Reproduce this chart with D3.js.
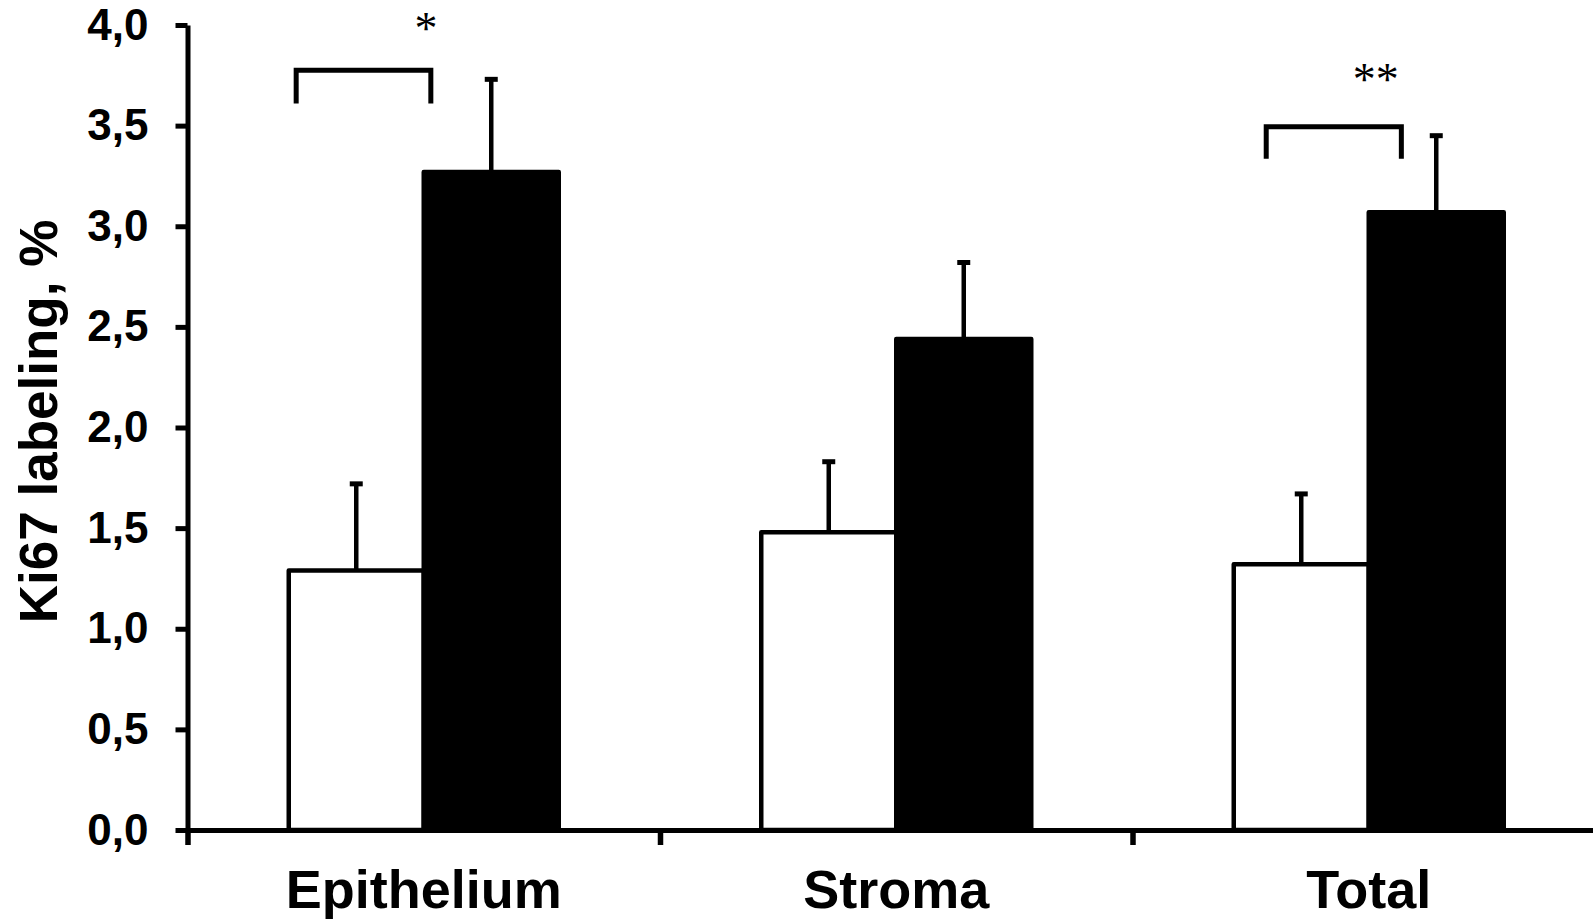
<!DOCTYPE html>
<html>
<head>
<meta charset="utf-8">
<script src="https://cdn.jsdelivr.net/npm/d3@7/dist/d3.min.js"></script>
<style>
  html, body { margin: 0; padding: 0; background: #fff; }
  svg { display: block; }
</style>
</head>
<body>
<svg id="chart" width="1593" height="920"></svg>
<script>
// Ki67 labeling (%) per tissue compartment, two groups (open / filled bars), mean + SD
const categories = ["Epithelium", "Stroma", "Total"];
const seriesKeys = ["open", "filled"];
const openMean = [1.29, 1.48, 1.32];
const openSD = [0.43, 0.35, 0.35];
const filledMean = [3.27, 2.44, 3.07];
const filledSD = [0.46, 0.38, 0.38];
const yTicks = [0, 0.5, 1, 1.5, 2, 2.5, 3, 3.5, 4];
const yTitle = "Ki67 labeling, %";

// significance brackets: x given as fraction of the category band, y in data units
const sigCategory = ["Epithelium", "Total"];
const sigLabel = ["*", "**"];
const sigX0 = [0.230, 0.283];
const sigX1 = [0.515, 0.569];
const sigTop = [3.775, 3.495];
const sigLeg = [3.61, 3.335];
const sigLabelX = [0.505, 0.515];
const sigLabelY = [4.013, 3.761];

const svg = d3.select("#chart");
const W = 1593, H = 920;
svg.append("rect").attr("width", W).attr("height", H).attr("fill", "#fff");

const plotLeft = 187.5, plotBottom = 830, plotTop = 25;
const bandStep = 472.5;

const y = d3.scaleLinear().domain([0, 4]).range([plotBottom, plotTop]);
const x0 = d3.scaleBand().domain(categories)
  .range([plotLeft, plotLeft + bandStep * categories.length])
  .paddingInner(0).paddingOuter(0);
const x1 = d3.scaleBand().domain(seriesKeys)
  .range([0, x0.bandwidth()])
  .paddingInner(0).paddingOuter(0.75);

const rows = categories.map((c, i) => ({
  cat: c,
  values: [
    { key: "open", mean: openMean[i], sd: openSD[i] },
    { key: "filled", mean: filledMean[i], sd: filledSD[i] }
  ]
}));

const ink = "#000";
const sw = 4.5;

// bars
const g = svg.append("g");
const groups = g.selectAll("g.cat").data(rows).join("g")
  .attr("class", "cat")
  .attr("transform", d => `translate(${x0(d.cat)},0)`);

groups.selectAll("rect").data(d => d.values).join("rect")
  .attr("x", d => x1(d.key))
  .attr("width", x1.bandwidth())
  .attr("y", d => y(d.mean))
  .attr("height", d => y(0) - y(d.mean))
  .attr("fill", d => d.key === "open" ? "#fff" : "#000")
  .attr("stroke", ink)
  .attr("stroke-width", sw)
  .attr("stroke-linejoin", "round");

// upper error bars
groups.selectAll("line.err").data(d => d.values).join("line")
  .attr("class", "err")
  .attr("x1", d => x1(d.key) + x1.bandwidth() / 2)
  .attr("x2", d => x1(d.key) + x1.bandwidth() / 2)
  .attr("y1", d => y(d.mean))
  .attr("y2", d => y(d.mean + d.sd))
  .attr("stroke", ink).attr("stroke-width", sw);

groups.selectAll("line.cap").data(d => d.values).join("line")
  .attr("class", "cap")
  .attr("x1", d => x1(d.key) + x1.bandwidth() / 2 - 6.5)
  .attr("x2", d => x1(d.key) + x1.bandwidth() / 2 + 6.5)
  .attr("y1", d => y(d.mean + d.sd))
  .attr("y2", d => y(d.mean + d.sd))
  .attr("stroke", ink).attr("stroke-width", 5);

// y axis
const yAxis = svg.append("g")
  .attr("transform", `translate(${plotLeft},0)`)
  .call(d3.axisLeft(y).tickValues(yTicks)
    .tickFormat(d => d3.format(".1f")(d).replace(".", ","))
    .tickSizeInner(12).tickSizeOuter(0).tickPadding(27));
yAxis.select(".domain").attr("stroke", ink).attr("stroke-width", 5);
yAxis.selectAll(".tick line").attr("stroke", ink).attr("stroke-width", 5);
yAxis.selectAll(".tick text")
  .attr("fill", ink)
  .style("font-family", "'Liberation Sans', Arial, sans-serif")
  .style("font-weight", "bold")
  .style("font-size", "44px");

// x axis: baseline with boundary ticks between categories
const xb = d3.scaleLinear().domain([0, categories.length])
  .range([plotLeft, plotLeft + bandStep * categories.length]);
const xAxis = svg.append("g")
  .attr("transform", `translate(0,${plotBottom})`)
  .call(d3.axisBottom(xb).tickValues(d3.range(categories.length + 1))
    .tickFormat("").tickSizeInner(15).tickSizeOuter(0));
xAxis.select(".domain").attr("stroke", ink).attr("stroke-width", 5);
xAxis.selectAll(".tick line").attr("stroke", ink).attr("stroke-width", 5.5);

// category labels
const xLab = svg.append("g")
  .attr("transform", `translate(0,${plotBottom})`)
  .call(d3.axisBottom(x0).tickSize(0));
xLab.select(".domain").remove();
xLab.selectAll(".tick text")
  .attr("y", 78).attr("dy", 0)
  .attr("fill", ink)
  .style("font-family", "'Liberation Sans', Arial, sans-serif")
  .style("font-weight", "bold")
  .style("font-size", "54px");

// y title
svg.append("text")
  .attr("transform", `translate(57,${(222 + 621) / 2}) rotate(-90)`)
  .attr("text-anchor", "middle")
  .attr("fill", ink)
  .style("font-family", "'Liberation Sans', Arial, sans-serif")
  .style("font-weight", "bold")
  .style("font-size", "53px")
  .text(yTitle);

// significance brackets
const sig = sigCategory.map((c, i) => ({
  c, label: sigLabel[i], x0: sigX0[i], x1: sigX1[i],
  top: sigTop[i], leg: sigLeg[i], lx: sigLabelX[i], ly: sigLabelY[i]
}));
const bx = (d, f) => x0(d.c) + f * x0.bandwidth();

svg.selectAll("path.sig").data(sig).join("path")
  .attr("class", "sig")
  .attr("d", d => `M${bx(d, d.x0)},${y(d.leg)}V${y(d.top)}H${bx(d, d.x1)}V${y(d.leg)}`)
  .attr("fill", "none")
  .attr("stroke", ink)
  .attr("stroke-width", 5)
  .attr("stroke-linejoin", "miter");

svg.selectAll("text.sig").data(sig).join("text")
  .attr("class", "sig")
  .attr("x", d => bx(d, d.lx))
  .attr("y", d => y(d.ly))
  .attr("dy", "0.47em")
  .attr("text-anchor", "middle")
  .attr("fill", ink)
  .style("font-family", "'Liberation Serif', 'Times New Roman', serif")
  .style("font-size", "46px")
  .text(d => d.label);
</script>
</body>
</html>
